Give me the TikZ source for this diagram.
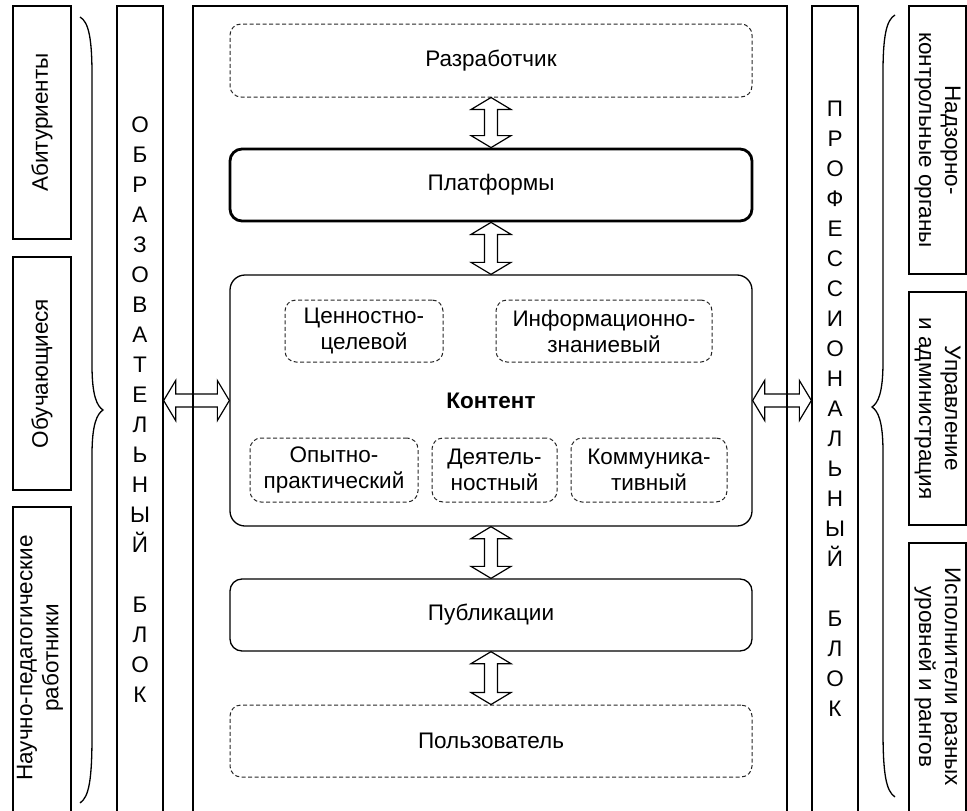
\documentclass[tikz,border=0pt]{standalone}
\usepackage{fontspec}
\setmainfont{Liberation Sans}
\usetikzlibrary{calc}
\tikzset{
  plainbox/.style={draw, line width=1.3pt, inner sep=0pt, align=center},
  solidbox/.style={draw, line width=1.3pt, rounded corners=12pt, inner sep=0pt, align=center, minimum width=522},
  thickbox/.style={solidbox, line width=2.8pt},
  dashbox/.style={draw=black!85, line width=1pt, dash pattern=on 4pt off 2.5pt, rounded corners=11pt, inner sep=0pt, align=center},
  arrline/.style={draw, line width=1.2pt, line join=miter},
  bracestyle/.style={draw, line width=1.3pt},
  txt/.style={font=\fontsize{22.5}{26}\selectfont},
  lettercol/.style={align=center, inner sep=0pt, font=\fontsize{22.5}{30}\selectfont},
}
\newcommand\vdarr[2]{\path[arrline] (#1) -- ++(20,12) -- ++(-13.5,0) -- ($(#2)+(6.5,-12)$) -- ++(13.5,0) -- (#2) -- ++(-20,-12) -- ++(13.5,0) -- ($(#1)+(-6.5,12)$) -- ++(-13.5,0) -- cycle;}
\newcommand\hdarr[2]{\path[arrline] (#1) -- ++(12,-20) -- ++(0,13.5) -- ($(#2)+(-12,-6.5)$) -- ++(0,-13.5) -- (#2) -- ++(-12,20) -- ++(0,-13.5) -- ($(#1)+(12,6.5)$) -- ++(0,13.5) -- cycle;}
\begin{document}
\begin{tikzpicture}[x=1pt,y=-1pt, txt]
\useasboundingbox (0,0) rectangle (967,811);
% side boxes left
\node[plainbox, rotate=90, minimum width=233, minimum height=58] (abit) at (42,122.5) {Абитуриенты};
\node[plainbox, rotate=90, minimum width=233, minimum height=58] (obuch) at (42,373.5) {Обучающиеся};
\node[plainbox, minimum width=58, minimum height=320] (nauch) at (42,667) {};
\node[rotate=90, align=center, inner sep=0pt] (nauchT) at (40,658) {Научно-педагогические\\работники};
% side boxes right
\node[plainbox, rotate=-90, minimum width=268, minimum height=57] (nadz) at (937.5,140) {Надзорно-\\контрольные органы};
\node[plainbox, rotate=-90, minimum width=233, minimum height=57] (uprav) at (937.5,408.5) {Управление\\и администрация};
\node[plainbox, minimum width=57, minimum height=290] (ispol) at (937.5,688) {};
\node[rotate=-90, align=center, inner sep=0pt] (ispolT) at (937.5,677) {Исполнители разных\\уровней и рангов};
% blocks
\node[plainbox, minimum width=46, minimum height=830] (lblock) at (140,421) {};
\node[lettercol] (ltext) at (140,410) {О\\Б\\Р\\А\\З\\О\\В\\А\\Т\\Е\\Л\\Ь\\Н\\Ы\\Й\\[30pt]Б\\Л\\О\\К};
\node[plainbox, minimum width=46, minimum height=830] (rblock) at (835,421) {};
\node[lettercol] (rtext) at (835,409) {П\\Р\\О\\Ф\\Е\\С\\С\\И\\О\\Н\\А\\Л\\Ь\\Н\\Ы\\Й\\[30pt]Б\\Л\\О\\К};
\node[plainbox, minimum width=594, minimum height=830] (main) at (490,421) {};
% central boxes
\node[dashbox, minimum width=522, minimum height=73] (dev) at (491,60.5) {Разработчик};
\node[thickbox, minimum height=72] (plat) at (491,185) {Платформы};
\node[solidbox, rounded corners=15pt, minimum height=251] (cont) at (491,400.5) {};
\node[font=\fontsize{22.5}{26}\selectfont\bfseries] (contT) at (491,401) {Контент};
\node[solidbox, minimum height=72] (pub) at (491,615) {Публикации};
\node[dashbox, minimum width=522, minimum height=72] (user) at (491,741) {Пользователь};
% sub boxes
\node[dashbox, minimum width=158, minimum height=62] (cen) at (364,331) {Ценностно-\\целевой};
\node[dashbox, minimum width=216, minimum height=62] (inf) at (604,331) {Информационно-\\знаниевый};
\node[dashbox, minimum width=168, minimum height=64] (opyt) at (334,470) {Опытно-\\практический};
\node[dashbox, minimum width=125, minimum height=64] (deyat) at (494.5,470) {Деятель-\\ностный};
\node[dashbox, minimum width=156, minimum height=64] (komm) at (649,470) {Коммуника-\\тивный};
% vertical arrows
\vdarr{dev.south}{plat.north}
\vdarr{plat.south}{cont.north}
\vdarr{cont.south}{pub.north}
\vdarr{pub.south}{user.north}
% horizontal arrows
\hdarr{lblock.east |- cont.west}{cont.west}
\hdarr{cont.east}{rblock.west |- cont.east}
% braces
\path[bracestyle] (80,17) .. controls (89,22) and (92,40) .. (92,75) -- (92,365) .. controls (92,396) and (97,406) .. (103,410) .. controls (97,414) and (92,424) .. (92,455) -- (92,735) .. controls (92,780) and (89,797) .. (80,803);
\path[bracestyle] (895,15) .. controls (886,20) and (883,38) .. (883,73) -- (883,362) .. controls (883,393) and (878,403) .. (872,407) .. controls (878,411) and (883,421) .. (883,452) -- (883,730) .. controls (883,774) and (886,791) .. (895,797);
\end{tikzpicture}
\end{document}
